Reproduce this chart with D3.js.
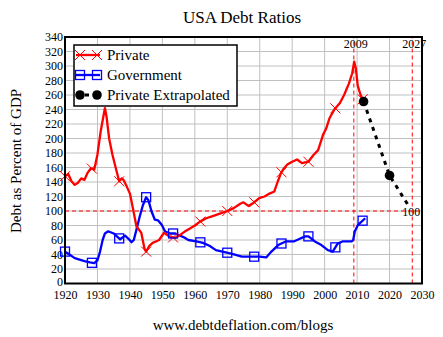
<!DOCTYPE html>
<html><head><meta charset="utf-8">
<script src="https://cdn.jsdelivr.net/npm/d3@7"></script>
<style>
body{margin:0;background:#fff;}
svg{display:block;font-family:"Liberation Serif","Times New Roman",serif;}
</style></head>
<body><svg id="c" width="443" height="337"></svg>
<script>
const privYears = [1920,1921,1922,1923,1924,1925,1926,1927,1928,1929,1930,1931,1932.3,1932.8,1933.6,1934.6,1935.6,1936.7,1937.5,1938,1939,1940,1941,1942,1943.5,1944.5,1945,1946,1947,1948,1949,1950.5,1951.5,1952.5,1954,1955.5,1957,1958.5,1960,1961.5,1963.5,1965.5,1967.5,1970,1972,1974,1975,1976.5,1978,1980,1981.5,1983,1984.5,1985.5,1986.5,1987.5,1988.5,1990,1991.5,1993,1995,1996.5,1998,1999.5,2000.5,2001.5,2003,2004.7,2006,2007.5,2008.5,2009.1,2009.6,2010.2,2011,2012];
const privVals  = [148,151,141,136,139,145,143,153,159,157,178,210,242,230,200,178,160,141,145,143,134,124,102,79,70,48,44,52,56,58,60,70,67,64,63,67,72,76,80,85,90,93,96,100,104,110,112,107,111,118,120,124,127,140,152,159,164,168,171,166,168,177,184,205,214,228,240,249,260,276,290,306,297,273,261,251];
const govYears = [1920,1921,1923,1924.5,1926,1927.7,1929,1930,1930.8,1931.6,1932.3,1933.3,1935,1936,1937,1938.5,1939.5,1940.5,1941.2,1942,1943,1944,1945,1945.7,1946.7,1947.7,1948.7,1949.8,1950.8,1952.3,1954,1955,1956.5,1958,1960.5,1962.5,1964.5,1966.5,1968.5,1971.5,1974.5,1977,1980,1982,1983.6,1985.7,1988,1990.5,1992.5,1994,1995,1997,1999,2001,2002.5,2004,2005.5,2008.3,2008.8,2009.3,2010.3,2011.3,2012.5];
const govVals  = [44,41,35,33,31,29,28,32,44,60,69,72,69,65,61,66,62,57,60,74,92,108,119,115,99,88,87,81,72,69,69,67,64,60,58,56,52,46,44,41,37,37,37,36,44,53,58,58,62,65,65,58,53,46,44,55,58,58,60,72,81,85,90];
const extYears = [2012,2020,2026.3];
const extVals  = [251,149,104];
const markerYears = [1920,1928.3,1936.7,1945,1953.3,1961.7,1970,1978.3,1986.7,1995,2003.3,2011.7];
const extMarkerYears = [2012,2020];
const xTicks = [1920,1930,1940,1950,1960,1970,1980,1990,2000,2010,2020,2030];
const yTicks = [0,20,40,60,80,100,120,140,160,180,200,220,240,260,280,300,320,340];
const refYears = [2009,2027];
const refValue = 100;
const legendLabels = ["Private","Government","Private Extrapolated"];
const titleText = "USA Debt Ratios";
const yLabelText = "Debt as Percent of GDP";
const footText = "www.debtdeflation.com/blogs";

const svg = d3.select("#c");
const x = d3.scaleLinear().domain([1920,2030]).range([65,422]);
const y = d3.scaleLinear().domain([0,340]).range([283.5,37]);

const zip = (a,b)=>a.map((v,i)=>[v,b[i]]);
const priv = zip(privYears,privVals), gov = zip(govYears,govVals), ext = zip(extYears,extVals);
const interp = (data, yr) => {
  const i = d3.bisector(d=>d[0]).left(data, yr);
  if (i<=0) return data[0][1];
  if (i>=data.length) return data[data.length-1][1];
  const a=data[i-1], b=data[i]; const t=(yr-a[0])/(b[0]-a[0]);
  return a[1]+t*(b[1]-a[1]);
};

// grid
const g = svg.append("g");
g.selectAll(".gx").data(xTicks.slice(1,-1)).join("line")
  .attr("x1",d=>x(d)).attr("x2",d=>x(d)).attr("y1",y(0)).attr("y2",y(340))
  .attr("stroke","#c0c0c0").attr("stroke-width",1);
g.selectAll(".gy").data(yTicks.slice(1,-1)).join("line")
  .attr("y1",d=>y(d)).attr("y2",d=>y(d)).attr("x1",x(1920)).attr("x2",x(2030))
  .attr("stroke","#c0c0c0").attr("stroke-width",1);

// axes
const ax = svg.append("g").attr("transform",`translate(0,${y(0)})`)
  .call(d3.axisBottom(x).tickValues(xTicks).tickFormat(d3.format("d")).tickSize(0).tickPadding(7));
const ay = svg.append("g").attr("transform",`translate(${x(1920)},0)`)
  .call(d3.axisLeft(y).tickValues(yTicks).tickSize(0).tickPadding(2));
[ax,ay].forEach(a=>{a.select(".domain").remove();
  a.selectAll("text").attr("font-family","Liberation Serif").attr("font-size",12).attr("fill","#000");});
ay.selectAll(".tick").filter(d=>d===0).select("text").attr("dy","0.2em");

// reference lines
svg.append("line").attr("x1",x(1920)).attr("x2",x(2030)).attr("y1",y(refValue)).attr("y2",y(refValue))
  .attr("stroke","#ff0000").attr("stroke-width",1).attr("stroke-dasharray","4,3");
svg.selectAll(".rv").data(refYears).join("line")
  .attr("x1",d=>x(d)).attr("x2",d=>x(d)).attr("y1",y(0)).attr("y2",y(340))
  .attr("stroke","#ff0000").attr("stroke-width",1).attr("stroke-dasharray","4,3");

const line = d3.line().x(d=>x(d[0])).y(d=>y(d[1]));

svg.append("path").attr("d",line(gov)).attr("fill","none").attr("stroke","#0000ff").attr("stroke-width",2.3).attr("stroke-linejoin","round");
svg.append("path").attr("d",line(priv)).attr("fill","none").attr("stroke","#ff0000").attr("stroke-width",2.3).attr("stroke-linejoin","round");
svg.append("path").attr("d",line(ext)).attr("fill","none").attr("stroke","#000").attr("stroke-width",3).attr("stroke-dasharray","4,5");

function cross(sel, cx, cy){
  sel.append("path").attr("d",`M${cx-5},${cy-5}L${cx+5},${cy+5}M${cx-5},${cy+5}L${cx+5},${cy-5}`)
    .attr("stroke","#ff0000").attr("stroke-width",1).attr("fill","none");
}
function square(sel, cx, cy){
  sel.append("rect").attr("x",cx-4.5).attr("y",cy-4.5).attr("width",9).attr("height",9)
    .attr("stroke","#0000ff").attr("stroke-width",1.3).attr("fill","none");
}
function dot(sel, cx, cy){
  sel.append("circle").attr("cx",cx).attr("cy",cy).attr("r",4.8).attr("fill","#000");
}
markerYears.forEach(yr=>{ cross(svg, x(yr), y(interp(priv,yr))); square(svg, x(yr), y(interp(gov,yr))); });
extMarkerYears.forEach(yr=> dot(svg, x(yr), y(interp(ext,yr))));

// plot border
svg.append("rect").attr("x",x(1920)).attr("y",y(340)).attr("width",x(2030)-x(1920)).attr("height",y(0)-y(340))
  .attr("fill","none").attr("stroke","#000").attr("stroke-width",2);

// annotations
svg.selectAll(".ry").data(refYears).join("text").attr("x",d=>x(d)+2).attr("y",y(340)+11)
  .attr("text-anchor","middle").attr("font-size",12).text(d=>d);
svg.append("text").attr("x",x(2027)-1).attr("y",y(refValue)+5).attr("text-anchor","middle").attr("font-size",12).text(refValue);

// legend
const lg = svg.append("g");
lg.append("rect").attr("x",74).attr("y",45).attr("width",163).attr("height",61).attr("fill","#fff").attr("stroke","#000").attr("stroke-width",1.5);
const ly = [55,75,95];
lg.append("line").attr("x1",76).attr("x2",100).attr("y1",ly[0]).attr("y2",ly[0]).attr("stroke","#ff0000").attr("stroke-width",2.3);
cross(lg,80,ly[0]); cross(lg,97,ly[0]);
lg.append("line").attr("x1",76).attr("x2",100).attr("y1",ly[1]).attr("y2",ly[1]).attr("stroke","#0000ff").attr("stroke-width",2.3);
square(lg,80,ly[1]); square(lg,97,ly[1]);
lg.append("line").attr("x1",76).attr("x2",100).attr("y1",ly[2]).attr("y2",ly[2]).attr("stroke","#000").attr("stroke-width",3).attr("stroke-dasharray","4,5");
dot(lg,80,ly[2]); dot(lg,97,ly[2]);
lg.selectAll(".lt").data(legendLabels).join("text").attr("x",107).attr("y",(d,i)=>ly[i]+5)
  .attr("font-size",15).attr("fill","#000").text(d=>d);

// titles
svg.append("text").attr("x",242).attr("y",23).attr("text-anchor","middle").attr("font-size",17).text(titleText);
svg.append("text").attr("transform","translate(21,161) rotate(-90)").attr("text-anchor","middle").attr("font-size",15).text(yLabelText);
svg.append("text").attr("x",243).attr("y",330).attr("text-anchor","middle").attr("font-size",15).text(footText);
</script></body></html>
